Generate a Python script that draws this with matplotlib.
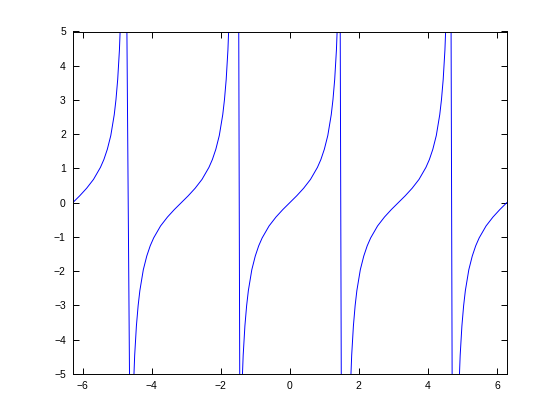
import numpy as np
import matplotlib
matplotlib.use("Agg")
import matplotlib.pyplot as plt

# one period of the curve: offset from branch centre -> value
u_shape = [-1.40, -1.35, -1.30, -1.25, -1.20, -1.10, -1.00, -0.90, -0.80, -0.60,
           -0.40, -0.20, 0.00, 0.20, 0.40, 0.60, 0.80, 0.90, 1.00, 1.10,
           1.20, 1.25, 1.30, 1.35, 1.40]
y_shape = [-5.80, -4.46, -3.60, -3.01, -2.57, -1.96, -1.56, -1.26, -1.03, -0.68,
           -0.42, -0.20, 0.00, 0.20, 0.42, 0.68, 1.03, 1.26, 1.56, 1.96,
           2.57, 3.01, 3.60, 4.46, 5.80]
centers = [-2 * np.pi, -np.pi, 0.0, np.pi, 2 * np.pi]

# near-vertical jump segments at the asymptotes
jump_x_top = [-4.724, -1.481, 1.457, 4.667]
jump_x_bot = [-4.634, -1.447, 1.493, 4.703]
jump_y = [6.0, -6.0]

u = np.array(u_shape)
yv = np.array(y_shape)
xs, ys = [], []
for i, c in enumerate(centers):
    if i == 0:
        m = u >= 0
    elif i == len(centers) - 1:
        m = u <= 0
    else:
        m = np.ones_like(u, dtype=bool)
    xs.extend(c + u[m])
    ys.extend(yv[m])
    if i < len(jump_x_top):
        xs.extend([jump_x_top[i], jump_x_bot[i]])
        ys.extend(jump_y)

fig = plt.figure(figsize=(5.6, 4.2), dpi=100)
ax = fig.add_axes([0.13, 0.11, 0.775, 0.815])
ax.plot(xs, ys, color=(0, 0, 1), lw=0.7)

ax.set_xlim(-2 * np.pi, 2 * np.pi)
ax.set_ylim(-5, 5)
ax.set_xticks(np.arange(-6, 7, 2))
ax.set_yticks(np.arange(-5, 6, 1))
ax.tick_params(direction='in', top=True, right=True, length=4, width=0.7,
               labelsize=7.5, pad=5)
for lab in ax.get_xticklabels() + ax.get_yticklabels():
    lab.set_family(['Liberation Sans', 'DejaVu Sans'])
for s in ax.spines.values():
    s.set_linewidth(0.7)

fig.savefig("out.png", dpi=100)
